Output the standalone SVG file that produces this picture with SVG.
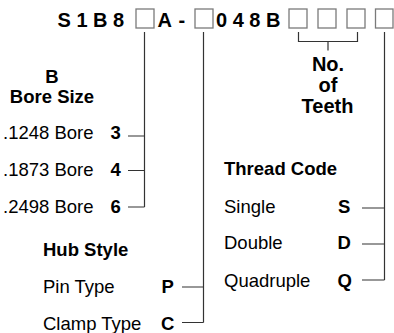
<svg xmlns="http://www.w3.org/2000/svg" width="394" height="333" viewBox="0 0 394 333">
<style>
text{font-family:"Liberation Sans",Arial,sans-serif;font-size:18.5px;fill:#000}
.b{font-weight:bold}
.c{text-anchor:middle}
.t{font-size:20px}
.box{fill:#fff;stroke:#7a7a7a;stroke-width:1.3}
.ln{fill:none;stroke:#333;stroke-width:1.2}
</style>
<rect width="394" height="333" fill="#fff"/>
<g id="code">
<text class="b t" x="57.5" y="26.5">S 1 B 8</text>
<text class="b t" x="157.5" y="26.5">A</text>
<text class="b t" x="178.5" y="26.5">-</text>
<text class="b t" x="216" y="26.5">0 4 8 B</text>
<rect class="box" x="136" y="9" width="18" height="19"/>
<rect class="box" x="195" y="9" width="18" height="19"/>
<rect class="box" x="289" y="9" width="18" height="19"/>
<rect class="box" x="318" y="9" width="18" height="19"/>
<rect class="box" x="347" y="9" width="18" height="19"/>
<rect class="box" x="375.5" y="9" width="17.5" height="19"/>
</g>
<g id="bore">
<text class="b c" x="52" y="83">B</text>
<text class="b c" x="52" y="103">Bore Size</text>
<text x="3" y="139">.1248 Bore</text>
<text x="3" y="176">.1873 Bore</text>
<text x="3" y="213">.2498 Bore</text>
<text class="b" x="110.5" y="139">3</text>
<text class="b" x="110.5" y="176">4</text>
<text class="b" x="110.5" y="213">6</text>
</g>
<g id="hub">
<text class="b" x="43" y="256">Hub Style</text>
<text x="43" y="293">Pin Type</text>
<text x="43" y="330">Clamp Type</text>
<text class="b" x="161.5" y="293">P</text>
<text class="b" x="161" y="330">C</text>
</g>
<g id="teeth">
<text class="b c t" x="328" y="71">No.</text>
<text class="b c t" x="328" y="92">of</text>
<text class="b c t" x="327.5" y="113">Teeth</text>
</g>
<g id="thread">
<text class="b" x="224" y="175">Thread Code</text>
<text x="224" y="213">Single</text>
<text x="224" y="249">Double</text>
<text x="224" y="286.5">Quadruple</text>
<text class="b" x="338" y="213">S</text>
<text class="b" x="337.5" y="249">D</text>
<text class="b" x="337.5" y="286.5">Q</text>
</g>
<g id="connectors">
<path class="ln" d="M144.5 32V207M128 136H144.5M128 170.5H144.5M128 207H144.5"/>
<path class="ln" d="M203.5 32V322.5M182 287H203.5M182 322.5H203.5"/>
<path class="ln" d="M384.5 32V280M362 208H384.5M362 244H384.5M362 280H384.5"/>
<path class="ln" d="M298.5 32V41.5H357.5V32M328 41.5V50.5"/>
</g>
</svg>
